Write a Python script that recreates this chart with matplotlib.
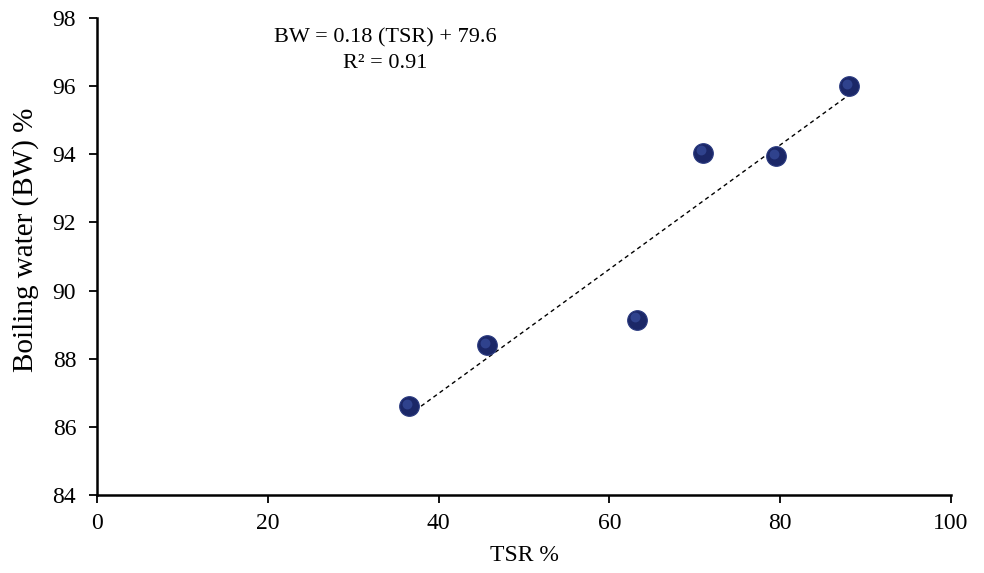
import numpy as np
import matplotlib
matplotlib.use("Agg")
import matplotlib.pyplot as plt

plt.rcParams['font.family'] = ['Liberation Serif', 'DejaVu Serif']

tsr = [36.5, 45.7, 63.2, 71.0, 79.5, 88.1]
bw = [86.6, 88.4, 89.15, 94.05, 93.95, 96.0]
x_ticks = [0, 20, 40, 60, 80, 100]
y_ticks = [84, 86, 88, 90, 92, 94, 96, 98]
equation = "BW = 0.18 (TSR) + 79.6"
r2_text = "R² = 0.91"

fig = plt.figure(figsize=(9.84, 5.73), dpi=100)
ax = fig.add_axes([0.0986, 0.136, 0.8679, 0.8326])

slope, intercept = np.polyfit(tsr, bw, 1)
xl = np.array([min(tsr), max(tsr)])
ax.plot(xl, slope * xl + intercept, linestyle=(0, (3, 2.5)), color='black', linewidth=1.0, zorder=2)

ax.scatter(tsr, bw, s=200, color='#1b2767', edgecolors='#2a3a80', linewidths=0.8, zorder=3)
ax.scatter(np.array(tsr) - 0.25, np.array(bw) + 0.07, s=50, color='#3e55a8', alpha=0.6, linewidths=0, zorder=4)

ax.set_xlim(0, 100)
ax.set_ylim(84, 98)
ax.set_xticks(x_ticks)
ax.set_yticks(y_ticks)
ax.tick_params(axis='both', direction='out', length=6, width=1.3, labelsize=17)
ax.tick_params(axis='x', pad=7)
ax.tick_params(axis='y', pad=9)
for side in ['top', 'right']:
    ax.spines[side].set_visible(False)
ax.spines['left'].set_linewidth(1.8)
ax.spines['bottom'].set_linewidth(1.8)

ax.set_xlabel("TSR %", fontsize=17, labelpad=8)
ax.set_ylabel("Boiling water (BW) %", fontsize=21)
ax.yaxis.set_label_coords(-0.068, 0.535)

ax.text(0.337, 0.978, equation + "\n" + r2_text, transform=ax.transAxes,
        ha='center', va='top', fontsize=16, linespacing=1.45)

fig.savefig("out.png", dpi=100)
